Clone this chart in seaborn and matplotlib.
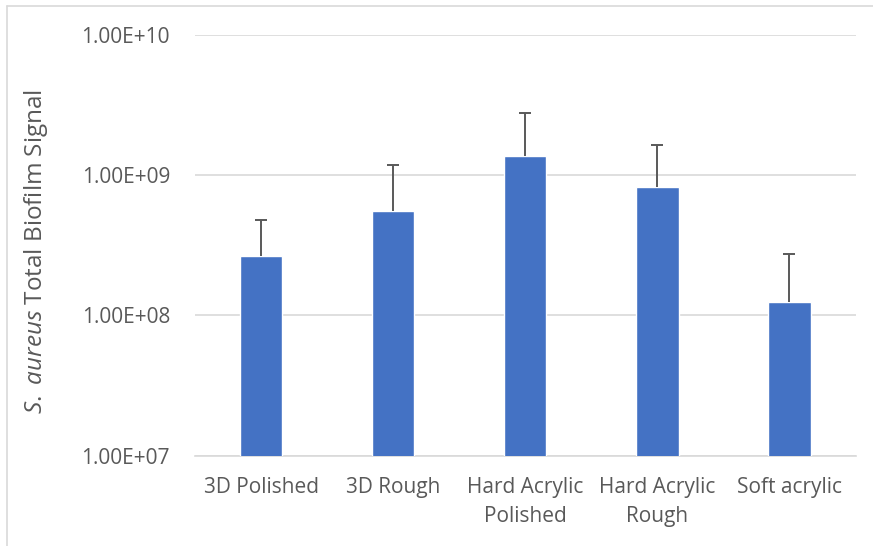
import matplotlib
matplotlib.use("Agg")
import matplotlib.pyplot as plt
import seaborn as sns
import numpy as np
from matplotlib.ticker import FuncFormatter, LogLocator, NullLocator
from matplotlib.lines import Line2D

# -------- DATA --------
categories = ["3D Polished", "3D Rough", "Hard Acrylic\nPolished", "Hard Acrylic\nRough", "Soft acrylic"]
signal = [2.64e8, 5.56e8, 1.37e9, 8.2e8, 1.24e8]
signal_err = [2.13e8, 6.2e8, 1.38e9, 8.1e8, 1.51e8]

# -------- STYLE --------
sns.set_style("white")
plt.rcParams["font.family"] = ["Open Sans", "DejaVu Sans"]
plt.rcParams["mathtext.fontset"] = "custom"
plt.rcParams["mathtext.it"] = "Open Sans:italic"
plt.rcParams["mathtext.rm"] = "Open Sans"
text_color = "#595959"
grid_color = "#D9D9D9"

fig = plt.figure(figsize=(8.73, 5.46), dpi=100)
ax = fig.add_axes([0.2234, 0.1654, 0.7566, 0.771])

sns.barplot(x=categories, y=signal, color="#4472C4", width=0.32,
            errorbar=None, saturation=1, ax=ax, zorder=3)
eb = ax.errorbar(np.arange(len(categories)), signal,
                 yerr=[np.zeros(len(signal)), signal_err],
                 fmt="none", ecolor=text_color, elinewidth=1.4, capsize=4.5,
                 capthick=1.4, zorder=4)
# hide the lower caps (only upward error bars)
eb[1][0].set_visible(False)

ax.set_yscale("log")
ax.set_ylim(1e7, 1e10)
ax.set_xlim(-0.5, len(categories) - 0.5)
ax.yaxis.set_major_locator(LogLocator(base=10, numticks=10))
ax.yaxis.set_minor_locator(NullLocator())
ax.yaxis.set_major_formatter(FuncFormatter(lambda v, p: f"{v:.2E}"))
ax.grid(axis="y", color=grid_color, linewidth=1.2, zorder=0)
ax.set_axisbelow(True)

for s in ["top", "right", "left"]:
    ax.spines[s].set_visible(False)
ax.spines["bottom"].set_color(grid_color)
ax.spines["bottom"].set_linewidth(1.2)

ax.tick_params(axis="both", length=0, colors=text_color)
ax.tick_params(axis="y", pad=18, labelsize=15)
ax.tick_params(axis="x", pad=15, labelsize=15)
for lab in ax.get_xticklabels():
    lab.set_linespacing(1.5)

ax.set_xlabel("")
ax.set_ylabel(r"$\mathit{S.\ aureus}$ Total Biofilm Signal", fontsize=17.5,
              color=text_color)
ax.yaxis.set_label_coords(-0.22, 0.484)

# light frame around chart area
fig.add_artist(Line2D([7 / 873, 7 / 873], [0, 1 - 6 / 546], color=grid_color, lw=1.2))
fig.add_artist(Line2D([7 / 873, 1], [1 - 6 / 546, 1 - 6 / 546], color=grid_color, lw=1.2))

fig.savefig("out.png", dpi=100)
